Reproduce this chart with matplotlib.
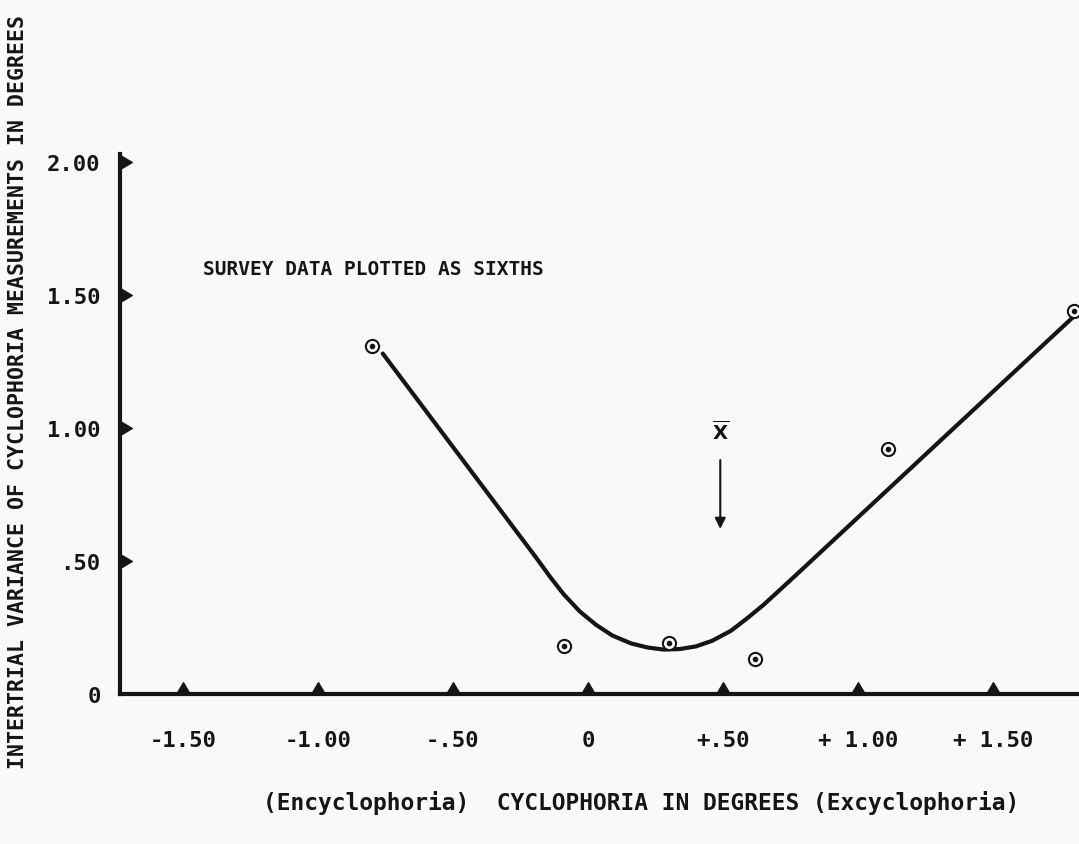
import numpy as np
import matplotlib
matplotlib.use("Agg")
import matplotlib.pyplot as plt

FONT = "DejaVu Sans Mono"
INK = "#151515"
PAPER = "#f9f9f7"

# survey data points (cyclophoria, variance)
point_x = [-0.80, -0.09, 0.30, 0.62, 1.11, 1.80]
point_y = [1.31, 0.18, 0.19, 0.13, 0.92, 1.44]

# hand-drawn fitted curve
curve_x = [-0.76, -0.19, -0.14, -0.09, -0.03, 0.03, 0.09, 0.16, 0.22, 0.28,
           0.34, 0.40, 0.46, 0.53, 0.59, 0.65, 0.72, 0.80, 1.80]
curve_y = [1.28, 0.51, 0.44, 0.375, 0.31, 0.26, 0.22, 0.19, 0.175, 0.167,
           0.169, 0.179, 0.20, 0.238, 0.285, 0.335, 0.40, 0.475, 1.42]

mean_x = 0.49

xticks = [-1.5, -1.0, -0.5, 0.0, 0.5, 1.0, 1.5]
xtick_labels = ["-1.50", "-1.00", "-.50", "0", "+.50", "+ 1.00", "+ 1.50"]
yticks = [0.5, 1.0, 1.5, 2.0]
ytick_labels = [".50", "1.00", "1.50", "2.00"]

fig = plt.figure(figsize=(10.79, 8.45), dpi=100, facecolor=PAPER)
ax = fig.add_axes([120 / 1079, 150 / 845, 959 / 1079, 540 / 845])
ax.set_facecolor(PAPER)
ax.set_xlim(-1.733, 1.8185)
ax.set_ylim(0, 2.03)

for side in ["top", "right"]:
    ax.spines[side].set_visible(False)
for side in ["left", "bottom"]:
    ax.spines[side].set_linewidth(3.0)
    ax.spines[side].set_color(INK)

# ticks drawn as solid triangles sitting on the axes
ax.tick_params(length=0)
ax.set_xticks(xticks)
ax.set_xticklabels(xtick_labels, fontfamily=FONT, fontsize=16, fontweight="bold", color=INK)
ax.tick_params(axis="x", pad=26)
ax.set_yticks([0.0] + yticks)
ax.set_yticklabels(["0"] + ytick_labels, fontfamily=FONT, fontsize=16, fontweight="bold", color=INK)
ax.tick_params(axis="y", pad=14)

up_tri = [(-1, 0), (1, 0), (0, 1.7), (-1, 0)]
right_tri = [(0, -1), (0, 1), (1.7, 0), (0, -1)]
ax.plot(xticks, [0] * len(xticks), linestyle="none", marker=up_tri, markersize=17,
        color=INK, clip_on=False, zorder=5)
ax.plot([ax.get_xlim()[0]] * len(yticks), yticks, linestyle="none", marker=right_tri,
        markersize=17, color=INK, clip_on=False, zorder=5)

# curve and points
ax.plot(curve_x, curve_y, color=INK, linewidth=3.0, solid_capstyle="round",
        solid_joinstyle="round", zorder=3)
ax.plot(point_x, point_y, linestyle="none", marker="o", markersize=9.5,
        markerfacecolor=PAPER, markeredgecolor=INK, markeredgewidth=1.5,
        clip_on=False, zorder=4)
ax.plot(point_x, point_y, linestyle="none", marker="o", markersize=3,
        color=INK, clip_on=False, zorder=4)

# mean marker
ax.text(mean_x, 0.99, r"$\overline{\mathbf{X}}$", ha="center", va="center",
        fontsize=14, color=INK)
ax.annotate("", xy=(mean_x, 0.61), xytext=(mean_x, 0.89),
            arrowprops=dict(arrowstyle="-|>", color=INK, lw=1.5, mutation_scale=16))

ax.text(-1.426, 1.598, "SURVEY DATA PLOTTED AS SIXTHS", ha="left", va="center",
        fontfamily=FONT, fontsize=14, fontweight="bold", color=INK)

fig.text(18 / 1079, 1 - 392 / 845,
         "INTERTRIAL VARIANCE OF CYCLOPHORIA MEASUREMENTS IN DEGREES",
         rotation=90, ha="center", va="center", fontfamily=FONT, fontsize=15.5,
         fontweight="bold", color=INK)
fig.text(641 / 1079, 1 - 803 / 845,
         "(Encyclophoria)  CYCLOPHORIA IN DEGREES (Excyclophoria)",
         ha="center", va="center", fontfamily=FONT, fontsize=16.5,
         fontweight="bold", color=INK)

fig.savefig("out.png", dpi=100, facecolor=fig.get_facecolor())
